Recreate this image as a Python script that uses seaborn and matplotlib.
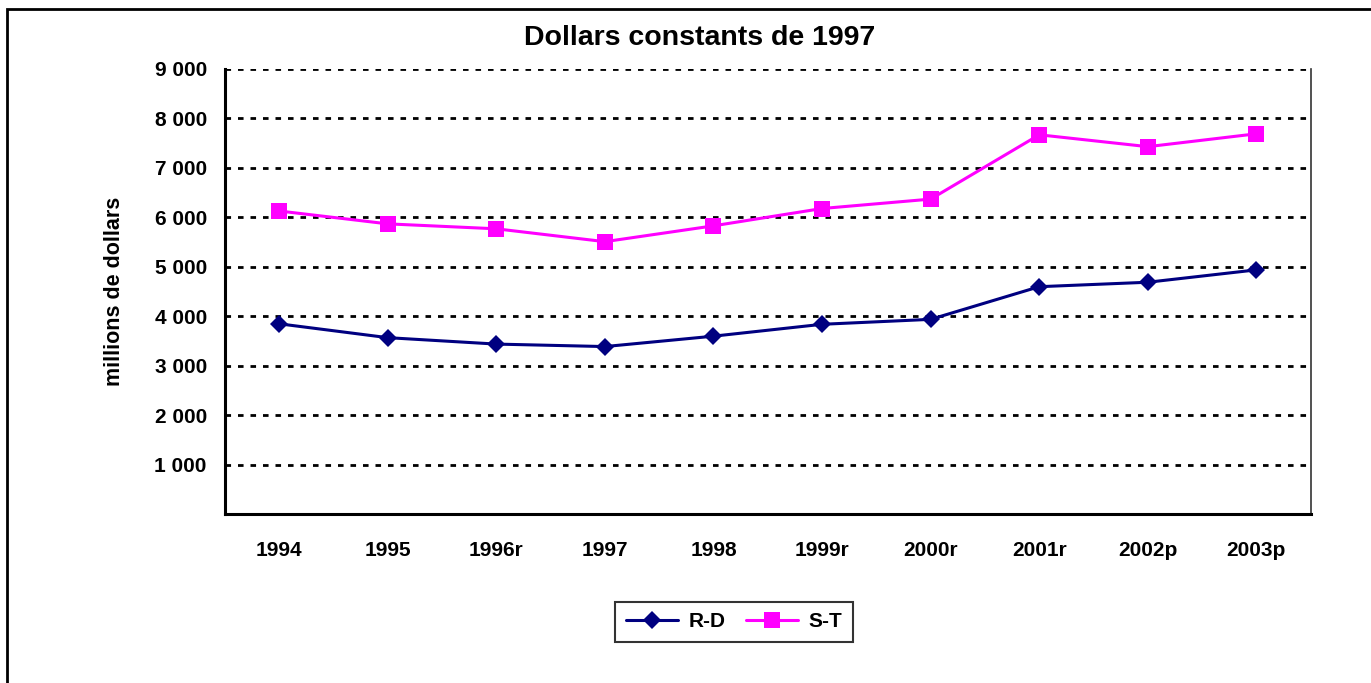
import pandas as pd
import matplotlib
matplotlib.use("Agg")
import matplotlib.pyplot as plt
import seaborn as sns
from matplotlib.patches import Rectangle
from matplotlib.ticker import FuncFormatter

#Data
years = ["1994", "1995", "1996r", "1997", "1998", "1999r", "2000r", "2001r", "2002p", "2003p"]
rd_values = [3850, 3570, 3440, 3390, 3600, 3840, 3940, 4600, 4690, 4940]
st_values = [6130, 5870, 5770, 5510, 5830, 6180, 6370, 7670, 7430, 7690]
y_ticks = [1000, 2000, 3000, 4000, 5000, 6000, 7000, 8000, 9000]

df = pd.DataFrame({"year": years * 2,
                   "value": rd_values + st_values,
                   "serie": ["R-D"] * len(years) + ["S-T"] * len(years)})

sns.set_style("white")
plt.rcParams["font.family"] = ["Liberation Sans", "DejaVu Sans"]
plt.rcParams["font.weight"] = "bold"
plt.rcParams["text.color"] = "black"
plt.rcParams["axes.labelcolor"] = "black"
plt.rcParams["xtick.color"] = "black"
plt.rcParams["ytick.color"] = "black"

fig = plt.figure(figsize=(13.71, 6.83), dpi=100)
ax = fig.add_axes([0.164, 0.247, 0.792, 0.652])

#outer frame of the chart (only left and top visible)
fig.patches.append(Rectangle((7 / 1371, -0.05), 1.2, 1 - 9 / 683 + 0.05,
                             transform=fig.transFigure, fill=False,
                             edgecolor="black", linewidth=2))

sns.lineplot(data=df, x="year", y="value", hue="serie", style="serie",
             palette={"R-D": "#000080", "S-T": "#FF00FF"},
             markers={"R-D": "D", "S-T": "s"}, dashes=False,
             linewidth=2.2, ax=ax, legend=False)

#marker sizes differ per series
ax.lines[0].set_markersize(9)
ax.lines[1].set_markersize(12)
for ln in ax.lines:
    ln.set_markeredgewidth(0)

ax.set_xlim(-0.5, len(years) - 0.5)
ax.set_ylim(0, 9000)
ax.set_yticks(y_ticks)
ax.yaxis.set_major_formatter(FuncFormatter(lambda v, p: f"{int(v):,}".replace(",", " ")))
ax.tick_params(axis="both", length=0, labelsize=15, colors="black")
ax.tick_params(axis="y", pad=13)
ax.tick_params(axis="x", pad=19)
for lbl in ax.get_xticklabels() + ax.get_yticklabels():
    lbl.set_fontweight("bold")

for y in y_ticks:
    ax.axhline(y, color="black", linewidth=2, linestyle=(0, (2, 2.5)), zorder=0)

ax.spines["top"].set_visible(False)
ax.spines["left"].set_linewidth(2.2)
ax.spines["bottom"].set_linewidth(2.2)
ax.spines["left"].set_color("black")
ax.spines["bottom"].set_color("black")
ax.spines["right"].set_linewidth(1.2)
ax.spines["right"].set_color("#333333")

ax.set_xlabel("")
ax.set_ylabel("millions de dollars", fontsize=15.5, fontweight="bold", labelpad=21, color="black")
fig.text(0.51, 0.944, "Dollars constants de 1997", fontsize=20.5, fontweight="bold",
         ha="center", va="center", color="black")

#legend below the chart
handles = ax.lines[:2]
leg = fig.legend(handles, ["R-D", "S-T"], loc="center", bbox_to_anchor=(0.5355, 0.0895),
                 ncol=2, frameon=True, fancybox=False, edgecolor="black",
                 prop={"size": 15, "weight": "bold"}, handlelength=2.5,
                 columnspacing=1.0, borderpad=0.5, handletextpad=0.5)
leg.get_frame().set_linewidth(1.5)

fig.savefig("out.png", dpi=100)
